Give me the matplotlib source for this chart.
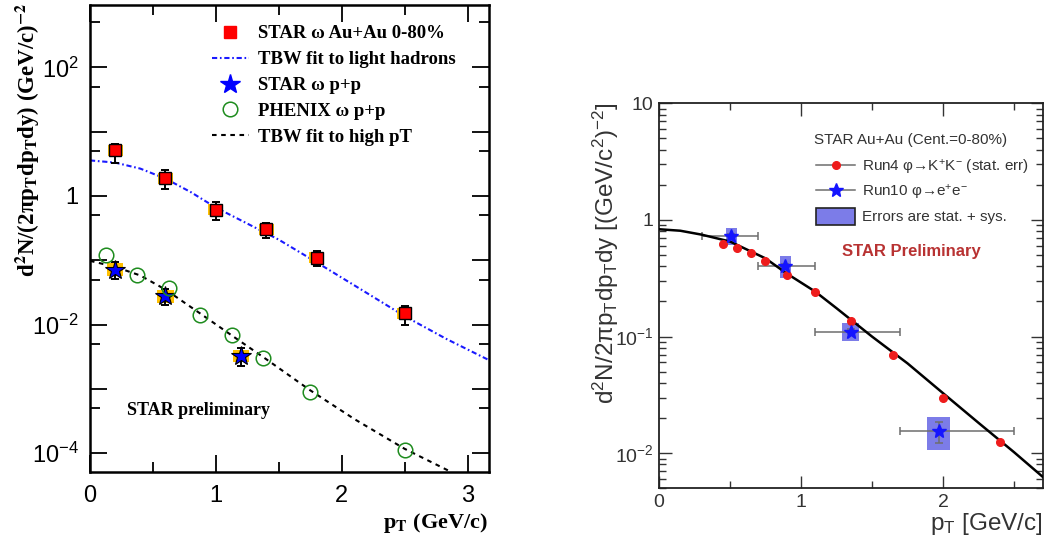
import numpy as np
import matplotlib
matplotlib.use('Agg')
import matplotlib.pyplot as plt
from matplotlib.lines import Line2D
from matplotlib.patches import Patch
from matplotlib.ticker import FixedLocator, FixedFormatter, NullFormatter, MultipleLocator, LogLocator

plt.rcParams['font.family'] = ['Liberation Sans', 'DejaVu Sans']
plt.rcParams['mathtext.fontset'] = 'custom'
plt.rcParams['mathtext.rm'] = 'Liberation Sans'
plt.rcParams['mathtext.it'] = 'Liberation Sans:italic'
plt.rcParams['mathtext.bf'] = 'Liberation Sans:bold'

# ---------------- left panel: omega spectra ----------------
au_pt = [0.2, 0.6, 1.0, 1.4, 1.8, 2.5]
au_y = [5.1, 1.90, 0.615, 0.301, 0.109, 0.0151]
au_err_hi = [6.46, 2.49, 0.807, 0.381, 0.138, 0.0192]
au_err_lo = [3.30, 1.30, 0.420, 0.223, 0.0813, 0.00986]
au_sys_lo = [4.19, 1.56, 0.506, 0.248, 0.0896, 0.0124]
au_sys_hi = [6.20, 2.31, 0.748, 0.366, 0.1325, 0.0184]

pp_pt = [0.2, 0.6, 1.2]
pp_y = [0.0713, 0.0275, 0.00325]
pp_err_hi = [0.0933, 0.0363, 0.00440]
pp_err_lo = [0.0516, 0.0200, 0.00225]
pp_sys_lo = [0.0566, 0.0218, 0.00258]
pp_sys_hi = [0.0898, 0.0346, 0.00409]

phx_pt = [0.13, 0.375, 0.627, 0.878, 1.126, 1.373, 1.75, 2.5]
phx_y = [0.119, 0.058, 0.0375, 0.0139, 0.0070, 0.00297, 0.000902, 0.000112]

tbw_light_pt = [0, 0.2, 0.4, 0.6, 0.8, 1.0, 1.2, 1.5, 1.8, 2.15, 2.5, 2.83, 3.17]
tbw_light_y = [3.57, 3.30, 2.66, 1.86, 1.15, 0.66, 0.417, 0.209, 0.093, 0.0355, 0.0135, 0.0060, 0.0028]

tbw_high_pt = [0, 0.2, 0.4, 0.6, 0.9, 1.15, 1.4, 1.75, 2.1, 2.5, 2.87]
tbw_high_y = [0.098, 0.079, 0.058, 0.035, 0.0138, 0.0063, 0.0029, 0.00095, 0.00034, 0.000117, 0.000051]

left_yticks = [1e-4, 1e-3, 1e-2, 1e-1, 1, 10, 100]
left_ylabels = ['$10^{-4}$', '', '$10^{-2}$', '', '1', '', '$10^{2}$']
left_yminor = [5e-5, 5e-4, 5e-3, 5e-2, 0.5, 5, 50, 500]

# ---------------- right panel: phi spectra ----------------
kk_pt = [0.45, 0.55, 0.65, 0.75, 0.9, 1.1, 1.35, 1.65, 2.0, 2.4]
kk_y = [0.62, 0.58, 0.525, 0.445, 0.338, 0.24, 0.136, 0.070, 0.0296, 0.0124]

ee_pt = [0.51, 0.89, 1.35, 1.97]
ee_y = [0.73, 0.406, 0.110, 0.0155]
ee_xlo = [0.30, 0.70, 1.10, 1.70]
ee_xhi = [0.70, 1.10, 1.70, 2.50]
ee_ylo = [0.70, 0.39, 0.105, 0.0123]
ee_yhi = [0.76, 0.42, 0.115, 0.0186]
ee_box_lo = [0.611, 0.316, 0.0912, 0.0107]
ee_box_hi = [0.859, 0.494, 0.130, 0.0204]
ee_box_w = [0.082, 0.08, 0.12, 0.164]

fit_pt = [0, 0.15, 0.3, 0.5, 0.75, 0.9, 1.1, 1.25, 1.5, 1.75, 2.0, 2.25, 2.5, 2.7]
fit_y = [0.832, 0.808, 0.748, 0.653, 0.468, 0.347, 0.243, 0.175, 0.100, 0.0589, 0.0327, 0.0182, 0.0102, 0.0063]

right_yticks = [1e-2, 1e-1, 1, 10]
right_ylabels = ['$10^{-2}$', '$10^{-1}$', '1', '10']

fig = plt.figure(figsize=(10.46, 5.46), dpi=100)
ax1 = fig.add_axes([0.0860, 0.1355, 0.3815, 0.8553])
ax2 = fig.add_axes([0.6300, 0.1057, 0.3674, 0.7051])

serif = dict(family='Liberation Serif', weight='bold')
gold = '#ffc000'
dashdot = (0, (2.5, 1.3, 0.8, 1.3))
dashed = (0, (2.2, 2.2))

# left panel
ax1.set_yscale('log')
ax1.plot(tbw_light_pt, tbw_light_y, color='#1a1aff', lw=1.5, ls=dashdot, zorder=2)
ax1.plot(tbw_high_pt, tbw_high_y, color='black', lw=1.5, ls=dashed, zorder=2)

au_lo = np.array(au_sys_lo)
au_hi = np.array(au_sys_hi)
ax1.bar(au_pt, au_hi - au_lo, bottom=au_lo, width=0.12, color=gold, zorder=3)
pp_lo = np.array(pp_sys_lo)
pp_hi = np.array(pp_sys_hi)
ax1.bar(pp_pt, pp_hi - pp_lo, bottom=pp_lo, width=0.13, color=gold, zorder=3)

au_yv = np.array(au_y)
ax1.errorbar(au_pt, au_y, yerr=[au_yv - au_err_lo, np.array(au_err_hi) - au_yv], fmt='none',
             ecolor='black', elinewidth=1.4, capsize=3, capthick=1.4, zorder=4)
pp_yv = np.array(pp_y)
ax1.errorbar(pp_pt, pp_y, yerr=[pp_yv - pp_err_lo, np.array(pp_err_hi) - pp_yv], fmt='none',
             ecolor='black', elinewidth=1.4, capsize=3, capthick=1.4, zorder=4)

ax1.plot(au_pt, au_y, ls='none', marker='s', ms=8.5, mfc='#ff0000', mec='black', mew=1, zorder=5)
ax1.plot(pp_pt, pp_y, ls='none', marker='*', ms=15, mfc='#0000ff', mec='black', mew=0.8, zorder=5)
ax1.plot(phx_pt, phx_y, ls='none', marker='o', ms=10.5, mfc='none', mec='#1e8c1e', mew=1.1, zorder=5)

ax1.set_xlim(0, 3.17)
ax1.set_ylim(5.1e-5, 930)
ax1.xaxis.set_major_locator(MultipleLocator(1))
ax1.xaxis.set_minor_locator(MultipleLocator(0.5))
ax1.yaxis.set_major_locator(FixedLocator(left_yticks))
ax1.yaxis.set_major_formatter(FixedFormatter(left_ylabels))
ax1.yaxis.set_minor_locator(FixedLocator(left_yminor))
ax1.yaxis.set_minor_formatter(NullFormatter())
ax1.tick_params(which='both', direction='in', top=True, right=True, width=1.3)
ax1.tick_params(which='major', length=12, labelsize=17)
ax1.tick_params(which='minor', length=7)
ax1.tick_params(axis='x', which='major', pad=9)
ax1.tick_params(axis='y', which='major', pad=8)
for s in ax1.spines.values():
    s.set_linewidth(1.8)

handles1 = [
    Line2D([], [], ls='none', marker='s', ms=9, mfc='#ff0000', mec='#ff0000'),
    Line2D([], [], color='#1a1aff', lw=1.5, ls=dashdot),
    Line2D([], [], ls='none', marker='*', ms=15, mfc='#0000ff', mec='#0000ff'),
    Line2D([], [], ls='none', marker='o', ms=10.5, mfc='none', mec='#1e8c1e', mew=1.1),
    Line2D([], [], color='black', lw=1.5, ls=dashed),
]
labels1 = ['STAR ω Au+Au 0-80%', 'TBW fit to light hadrons', 'STAR ω p+p',
           'PHENIX ω p+p', 'TBW fit to high pT']
ax1.legend(handles1, labels1, loc='upper left', bbox_to_anchor=(0.305, 0.957), frameon=False,
           prop=dict(family='Liberation Serif', weight='bold', size=13.5), handlelength=2.0,
           handletextpad=0.45, labelspacing=0.47, borderpad=0, borderaxespad=0)

ax1.text(0.093, 0.122, 'STAR preliminary', transform=ax1.transAxes, fontsize=13, **serif)
fig.text(28 / 1046, 1 - 3 / 546,
         r'd$^{\mathbf{2}}$N/(2πp$_{\mathbf{T}}$dp$_{\mathbf{T}}$dy) (GeV/c)$^{\mathbf{-2}}$',
         rotation=90, ha='center', va='top', fontsize=16.5, math_fontfamily='stix', **serif)
fig.text(488 / 1046, 1 - 528 / 546, r'p$_{\mathbf{T}}$ (GeV/c)', ha='right', va='baseline',
         fontsize=16, math_fontfamily='stix', **serif)

# right panel
gray = '#333333'
ax2.set_yscale('log')
ee_lo = np.array(ee_box_lo)
ee_hi = np.array(ee_box_hi)
ax2.bar(ee_pt, ee_hi - ee_lo, bottom=ee_lo, width=ee_box_w, color='#7c7ce8', zorder=2)
ee_x = np.array(ee_pt)
ee_yv = np.array(ee_y)
ax2.errorbar(ee_pt, ee_y, xerr=[ee_x - ee_xlo, np.array(ee_xhi) - ee_x],
             yerr=[ee_yv - ee_ylo, np.array(ee_yhi) - ee_yv], fmt='none',
             ecolor='#6e6e6e', elinewidth=1.1, capsize=3, capthick=1.1, zorder=3)
ax2.plot(fit_pt, fit_y, color='black', lw=1.8, zorder=4)
ax2.plot(kk_pt, kk_y, ls='none', marker='o', ms=5.5, mfc='#ee1c1c', mec='#ee1c1c', zorder=5)
ax2.plot(ee_pt, ee_y, ls='none', marker='*', ms=10, mfc='#1414ff', mec='#1414ff', zorder=6)

ax2.set_xlim(0, 2.706)
ax2.set_ylim(0.005, 10)
ax2.xaxis.set_major_locator(MultipleLocator(1))
ax2.xaxis.set_minor_locator(MultipleLocator(0.5))
ax2.yaxis.set_major_locator(FixedLocator(right_yticks))
ax2.yaxis.set_major_formatter(FixedFormatter(right_ylabels))
ax2.yaxis.set_minor_locator(LogLocator(subs=np.arange(2, 10)))
ax2.yaxis.set_minor_formatter(NullFormatter())
ax2.tick_params(which='both', direction='in', top=True, right=True, width=1.0, color=gray,
                labelcolor=gray)
ax2.tick_params(which='major', length=9, labelsize=14, pad=4)
ax2.tick_params(which='minor', length=5)
for s in ax2.spines.values():
    s.set_linewidth(1.3)
    s.set_color('#222222')

handles2 = [
    Line2D([], [], color='#6e6e6e', lw=1.1, marker='o', ms=5.5, mfc='#ee1c1c', mec='#ee1c1c'),
    Line2D([], [], color='#6e6e6e', lw=1.1, marker='*', ms=10, mfc='#1414ff', mec='#1414ff'),
    Patch(facecolor='#7c7ce8', edgecolor='#222222', lw=1.2),
]
labels2 = ['Run4 φ→K$^{+}$K$^{-}$ (stat. err)', 'Run10 φ→e$^{+}$e$^{-}$', 'Errors are stat. + sys.']
leg2 = ax2.legend(handles2, labels2, loc='upper left', bbox_to_anchor=(0.408, 0.857), frameon=False,
                  fontsize=11, handlelength=2.6, handleheight=1.3, handletextpad=0.4,
                  labelspacing=0.38, borderpad=0, borderaxespad=0)
for t in leg2.get_texts():
    t.set_color(gray)
ax2.text(0.404, 0.905, 'STAR Au+Au (Cent.=0-80%)', transform=ax2.transAxes, ha='left',
         va='center', fontsize=11, color=gray)

ax2.text(0.475, 0.6145, 'STAR Preliminary', transform=ax2.transAxes, ha='left', va='center',
         fontsize=12, fontweight='bold', color='#b83232')
fig.text(606 / 1046, 1 - 103 / 546,
         r'd$^{2}$N/2πp$_{\mathrm{T}}$dp$_{\mathrm{T}}$dy [(GeV/c$^{2}$)$^{-2}$]',
         rotation=90, ha='center', va='top', fontsize=17.5, color=gray)
fig.text(1043 / 1046, 1 - 530 / 546, r'p$_{\mathrm{T}}$ [GeV/c]', ha='right', va='baseline',
         fontsize=17.5, color=gray)

fig.savefig('out.png', dpi=100)
